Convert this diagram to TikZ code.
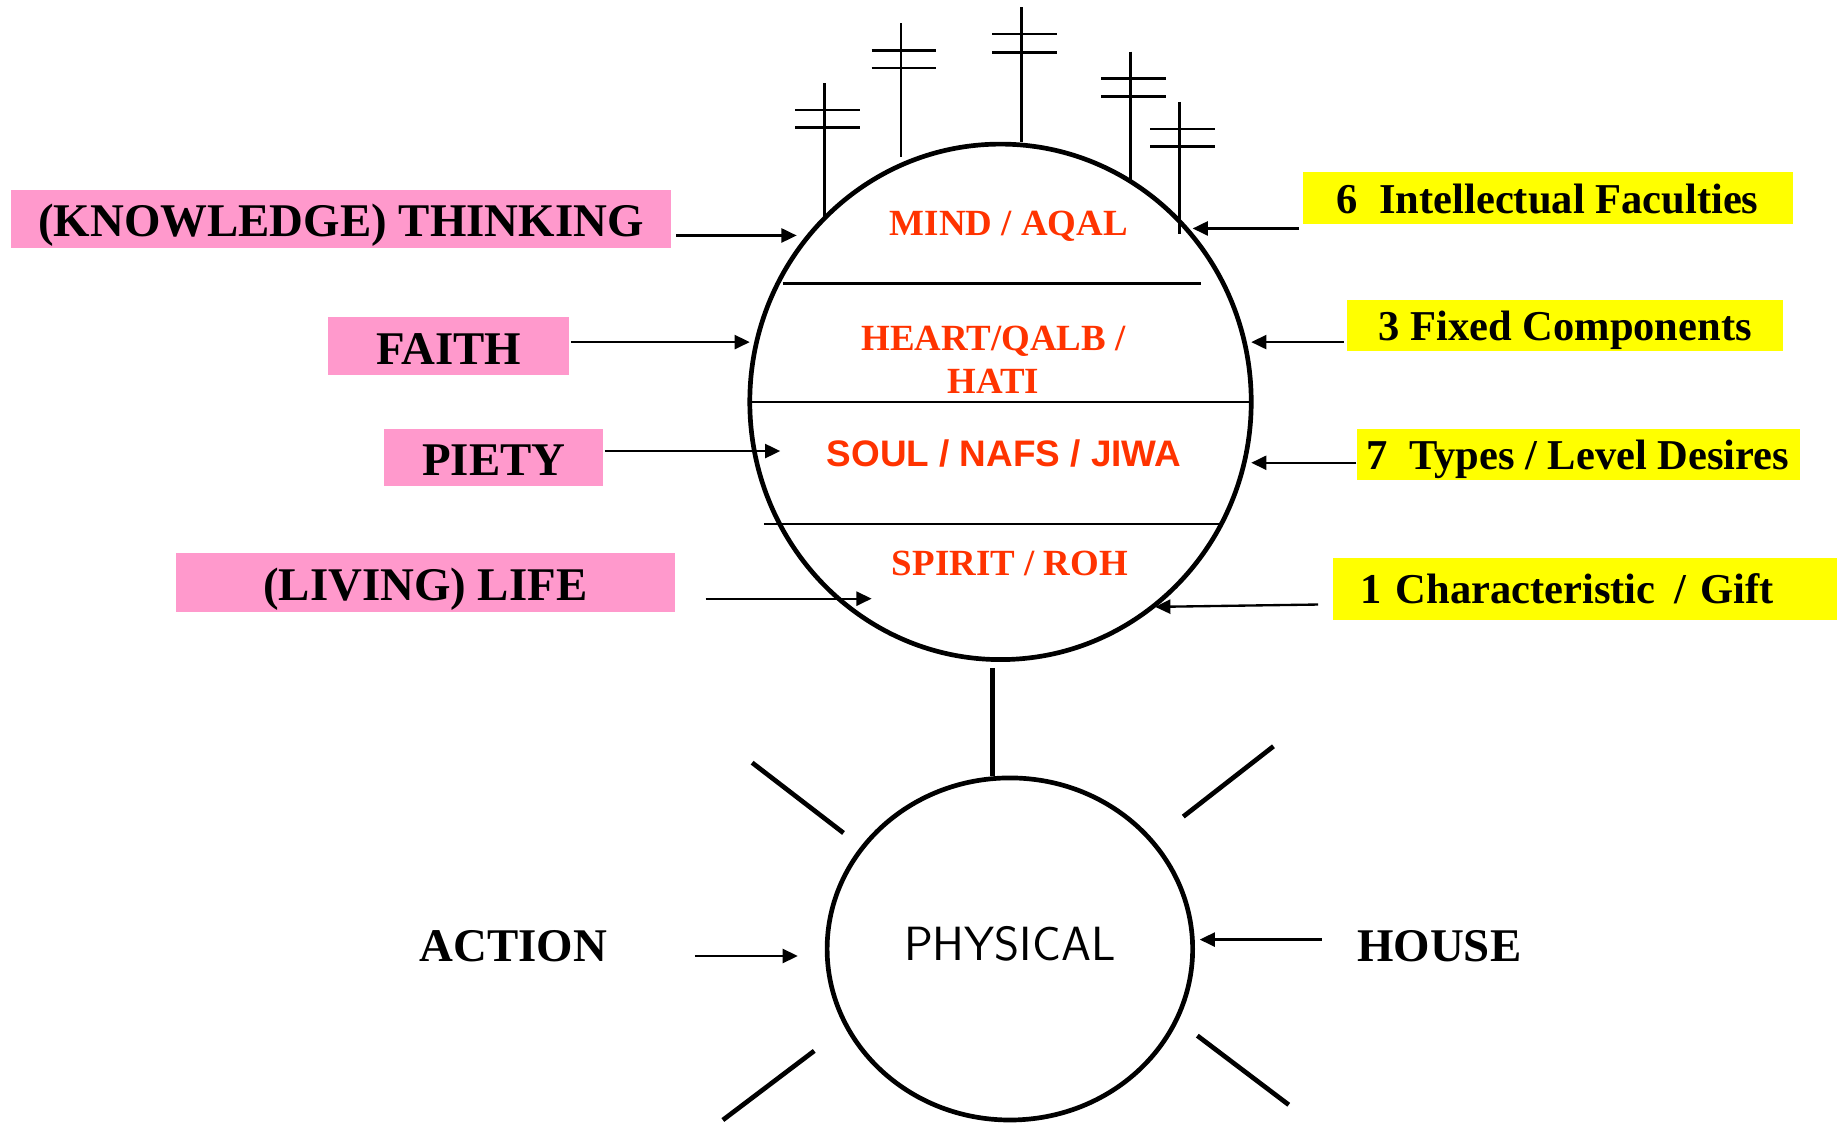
\documentclass[tikz,border=0pt]{standalone}
\usepackage{fontspec}
\setmainfont{Liberation Serif}
\newfontfamily\arialbold{Liberation Sans}
\usetikzlibrary{shapes.geometric,arrows.meta,calc}
\definecolor{pinkbox}{RGB}{255,153,204}
\definecolor{yellowbox}{RGB}{255,255,0}
\definecolor{layerred}{RGB}{255,51,0}

\begin{document}
\begin{tikzpicture}[x=1pt,y=-1pt,
  every node/.style={inner sep=0pt},
  pinklabel/.style={fill=pinkbox, text height=36pt, text depth=5.6pt, font=\fontsize{40}{44}\selectfont\bfseries},
  yellowlabel/.style={fill=yellowbox, minimum height=44pt, text height=33pt, text depth=7pt, font=\fontsize{36.3}{40}\selectfont\bfseries},
  plainlabel/.style={font=\fontsize{40}{44}\selectfont\bfseries},
  layer/.style={text=layerred, text height=26pt, text depth=5.2pt, font=\fontsize{31.5}{37}\selectfont\bfseries},
  arr/.style={line width=2pt, -{Triangle[length=13pt,width=12pt]}},
  mast/.style={line width=2.2pt},
  divider/.style={line width=2pt},
  ray/.style={line width=4pt},
]
\useasboundingbox (0,0) rectangle (1568,958);

% the inner self, split into four layers
\node[draw, ellipse, line width=4pt, minimum width=428pt, minimum height=440pt] (soul) at (854,343) {};
\draw[divider] (668,242) -- (1025,242);
\draw[divider] (640,343) -- (1068,343);
\draw[divider] (652,447) -- (1043,447);

\node[layer] (mind) at (861,191) {MIND / AQAL};
\node[text=layerred, align=center, font=\fontsize{31.5}{37}\selectfont\bfseries] (heart) at (848,307) {HEART/QALB /\\HATI};
\node[layer, font=\arialbold\fontsize{31.5}{37}\selectfont\bfseries] (nafs) at (857,388) {SOUL / NAFS / JIWA};
\node[layer] (spirit) at (862,481) {SPIRIT / ROH};

% antennas on top of the head
\foreach \mx/\mt/\mb/\ba/\bb in {704/71/186/94/109, 769/20/134/43/58, 872/6/121/29/45, 965/44/154/67/82.5, 1007/87/200/110/125}
{
  \draw[mast] (\mx,\mt) -- (\mx,\mb);
  \draw[mast] (\mx-25,\ba) -- (\mx+30,\ba) (\mx-25,\bb) -- (\mx+30,\bb);
}

% the body
\node[draw, ellipse, line width=4pt, minimum width=312pt, minimum height=292pt,
      text height=24pt, text depth=3.5pt,
      font=\sffamily\fontsize{41}{44}\selectfont] (body) at (862,810) {PHYSICAL};
\path (soul.south) ++(-7,5) coordinate (neckTop);
\coordinate (neckBot) at (neckTop |- body.north);
\draw[line width=4pt] (neckTop) -- (neckBot);

\draw[ray] (642,651) -- (720,711);
\draw[ray] (1087,637) -- (1010,697);
\draw[ray] (695,897) -- (617,956);
\draw[ray] (1022,884) -- (1100,943);

% left labels
\node[pinklabel, minimum width=564pt, minimum height=50pt] (think) at (291,187) {(KNOWLEDGE) THINKING};
\node[pinklabel, minimum width=206pt, minimum height=49pt] (faith) at (383,295.5) {FAITH};
\node[pinklabel, minimum width=187pt, minimum height=49pt] (piety) at (421.5,390.5) {PIETY};
\node[pinklabel, minimum width=426pt, minimum height=50pt] (life) at (363,497) {(LIVING) LIFE};

% right labels
\node[yellowlabel, minimum width=418pt] (intel) at (1321,169) {6~~Intellectual Faculties};
\node[yellowlabel, minimum width=372pt] (fixed) at (1336,278) {3 Fixed Components};
\node[yellowlabel, minimum width=378pt] (types) at (1347,388) {7~~Types / Level Desires};
\node[yellowlabel, anchor=west, minimum height=53pt, text width=384pt, inner xsep=23pt, align=left] (gift) at (1138,502.5) {1 Characteristic\hspace{4pt} / Gift};

\node[plainlabel] (action) at (438,808) {ACTION};
\node[plainlabel] (house) at (1228.5,808) {HOUSE};

% arrow tips
\coordinate (tThink) at (680,201);
\coordinate (tFaith) at (640,292);
\coordinate (tPiety) at (666,385);
\coordinate (tLife) at (744,511);
\coordinate (tIntel) at (1018,195);
\coordinate (tFixed) at (1068,292);
\coordinate (tTypes) at (1068,395);
\coordinate (tGift) at (986,518);
\coordinate (tAction) at (681,816);
\coordinate (tHouse) at (1024,802);

\draw[arr] ($(think.east |- tThink)+(4,0)$) -- (tThink);
\draw[arr] ($(faith.east |- tFaith)+(1,0)$) -- (tFaith);
\draw[arr] ($(piety.east |- tPiety)+(1,0)$) -- (tPiety);
\draw[arr] ($(life.east |- tLife)+(26,0)$) -- (tLife);
\draw[arr] ($(intel.west |- tIntel)+(-3,0)$) -- (tIntel);
\draw[arr] ($(fixed.west |- tFixed)+(-3,0)$) -- (tFixed);
\draw[arr] (types.west |- tTypes) -- (tTypes);
\draw[arr] ($(gift.west)+(-13,13.5)$) -- (tGift);
\draw[arr] ($(action.east |- tAction)+(75,0)$) -- (tAction);
\draw[arr] ($(house.west |- tHouse)+(-30,0)$) -- (tHouse);
\end{tikzpicture}
\end{document}
